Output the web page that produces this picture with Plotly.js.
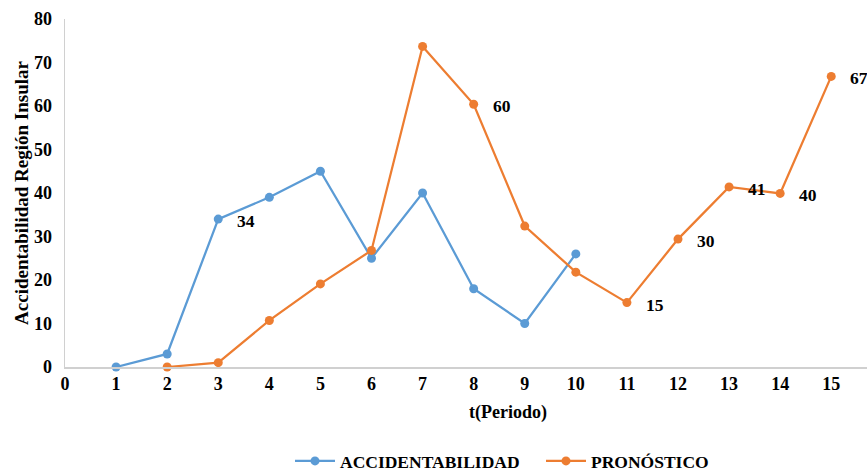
<!DOCTYPE html>
<html>
<head>
<meta charset="utf-8">
<script src="https://cdn.plot.ly/plotly-3.0.1.min.js"></script>
<style>html,body{margin:0;padding:0;background:#fff;overflow:hidden;font-family:"Liberation Serif"}</style>
</head>
<body>
<div id="chart" style="width:867px;height:471px"></div>
<script>
const periodsA = [1, 2, 3, 4, 5, 6, 7, 8, 9, 10];
const accidentabilidad = [0, 3, 34, 39, 45, 25, 40, 18, 10, 26];
const labelsA = ["", "", "34", "", "", "", "", "", "", ""];

const periodsP = [2, 3, 4, 5, 6, 7, 8, 9, 10, 11, 12, 13, 14, 15];
const pronostico = [0, 1, 10.7, 19.1, 26.8, 73.7, 60.4, 32.4, 21.8, 14.8, 29.4, 41.4, 39.9, 66.8];
const labelsP = ["", "", "", "", "", "", "60", "", "", "15", "30", "41", "40", "67"];

const xTicks = [0, 1, 2, 3, 4, 5, 6, 7, 8, 9, 10, 11, 12, 13, 14, 15];
const yTicks = [0, 10, 20, 30, 40, 50, 60, 70, 80];

const serif = "Liberation Serif";
const blue = "#5B9BD5";
const orange = "#ED7D31";
function bf(size) { return {family: serif, size: size, color: "#000", weight: "bold"}; }

function draw() {
  const traces = [
    {
      x: periodsA, y: accidentabilidad,
      name: "ACCIDENTABILIDAD", type: "scatter", mode: "lines+markers",
      line: {color: blue, width: 2.25},
      marker: {color: blue, size: 9},
      cliponaxis: false
    },
    {
      x: periodsP, y: pronostico,
      name: "PRONÓSTICO", type: "scatter", mode: "lines+markers",
      line: {color: orange, width: 2.25},
      marker: {color: orange, size: 9},
      cliponaxis: false
    }
  ];

  const labelAnnotations = [];
  function addLabels(xs, ys, labels) {
    labels.forEach((t, i) => {
      if (!t) return;
      labelAnnotations.push({
        x: xs[i], y: ys[i], xref: "x", yref: "y", text: t, showarrow: false,
        xanchor: "left", yanchor: "middle", xshift: 17, yshift: -2, font: bf(17.5)
      });
    });
  }
  addLabels(periodsA, accidentabilidad, labelsA);
  addLabels(periodsP, pronostico, labelsP);

  const layout = {
    width: 867, height: 471,
    margin: {l: 65, r: 0, t: 19, b: 104},
    paper_bgcolor: "#fff", plot_bgcolor: "#fff",
    font: bf(17.5),
    xaxis: {
      range: [0, 15.7], tickvals: xTicks, ticktext: xTicks.map(String),
      showgrid: false, zeroline: false, showline: true, linecolor: "#d0d0d0", linewidth: 1.5,
      ticks: "", tickfont: bf(18), automargin: false
    },
    yaxis: {
      range: [0, 80], tickvals: yTicks, ticktext: yTicks.map(String),
      showgrid: false, zeroline: false, showline: true, linecolor: "#d0d0d0", linewidth: 1.5,
      ticks: "", ticklabelstandoff: 8, tickfont: bf(18),
      title: {text: "Accidentabilidad Región Insular", font: bf(19), standoff: 0},
      automargin: false
    },
    annotations: labelAnnotations.concat([
      {text: "t(Periodo)", xref: "paper", yref: "paper", x: (508 - 65) / 802, y: 0,
       xanchor: "center", yanchor: "middle", yshift: -45, showarrow: false, font: bf(18)}
    ]),
    showlegend: true,
    legend: {
      orientation: "h", xref: "container", yref: "container",
      xanchor: "left", yanchor: "middle",
      x: 290 / 867, y: 1 - 461 / 471,
      font: bf(17.5), itemwidth: 40, entrywidth: 196, entrywidthmode: "pixels",
      traceorder: "normal", bgcolor: "rgba(0,0,0,0)"
    }
  };

  Plotly.newPlot("chart", traces, layout, {staticPlot: true, displayModeBar: false});
}

if (document.fonts && document.fonts.load) {
  document.fonts.load('bold 17px "Liberation Serif"').then(draw, draw);
} else {
  draw();
}
</script>
</body>
</html>
